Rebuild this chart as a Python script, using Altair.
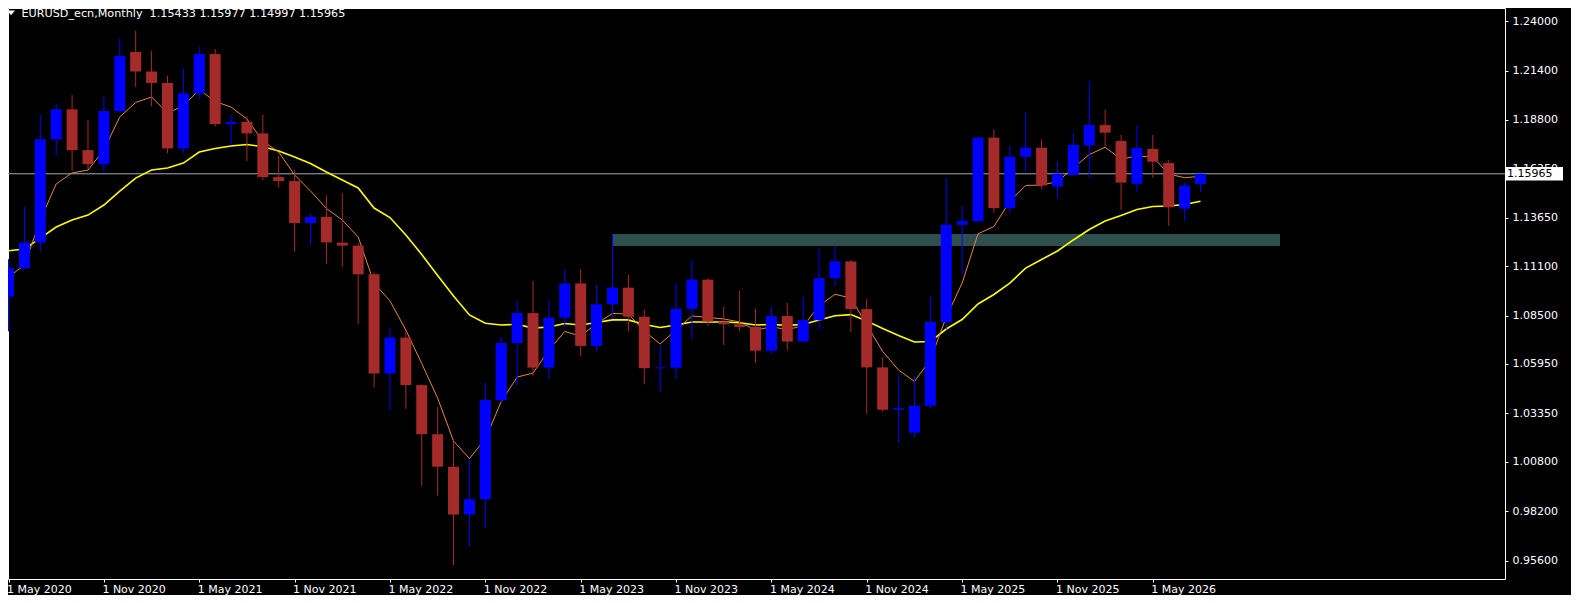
import altair as alt
import pandas as pd

# ---------------- data ----------------
opens = [1.0950, 1.1099, 1.1234, 1.1778, 1.1936, 1.1721, 1.1647, 1.1927, 1.2238, 1.2135,
         1.2075, 1.1730, 1.2020, 1.2227, 1.1858, 1.1870, 1.1809, 1.1579, 1.1558, 1.1337,
         1.1370, 1.1234, 1.1218, 1.1067, 1.0545, 1.0734, 1.0484, 1.0225, 1.0054, 0.9802,
         0.9882, 1.0405, 1.0705, 1.0863, 1.0576, 1.0839, 1.1019, 1.0690, 1.0909, 1.0997,
         1.0844, 1.0573, 1.0575, 1.0886, 1.1039, 1.0818, 1.0804, 1.0790, 1.0665, 1.0848,
         1.0713, 1.0826, 1.1047, 1.1135, 1.0884, 1.0577, 1.0354, 1.0233, 1.0375, 1.0816,
         1.1328, 1.1347, 1.1787, 1.1416, 1.1686, 1.1734, 1.1529, 1.1590, 1.1745, 1.1853,
         1.1769, 1.1544, 1.1727, 1.1653, 1.1413, 1.15433]
highs = [1.1147, 1.1422, 1.1908, 1.1966, 1.2011, 1.1881, 1.2003, 1.2310, 1.2349, 1.2243,
         1.2113, 1.2150, 1.2266, 1.2254, 1.1909, 1.1900, 1.1909, 1.1692, 1.1616, 1.1386,
         1.1483, 1.1495, 1.1233, 1.1076, 1.0787, 1.0774, 1.0488, 1.0369, 1.0198, 1.0094,
         1.0497, 1.0736, 1.0929, 1.1033, 1.0930, 1.1095, 1.1092, 1.1012, 1.1276, 1.1065,
         1.0882, 1.0695, 1.1017, 1.1139, 1.1046, 1.0897, 1.0981, 1.0885, 1.0895, 1.0916,
         1.0948, 1.1202, 1.1214, 1.1144, 1.0937, 1.0630, 1.0533, 1.0529, 1.0955, 1.1573,
         1.1425, 1.1790, 1.1830, 1.1742, 1.1918, 1.1778, 1.1659, 1.1811, 1.2085, 1.1933,
         1.1801, 1.1853, 1.1801, 1.1669, 1.1550, 1.15977]
lows = [1.0767, 1.1095, 1.1185, 1.1696, 1.1612, 1.1622, 1.1603, 1.1922, 1.2054, 1.1952,
        1.1704, 1.1704, 1.1986, 1.1845, 1.1752, 1.1664, 1.1563, 1.1524, 1.1186, 1.1221,
        1.1121, 1.1106, 1.0806, 1.0471, 1.0349, 1.0359, 0.9952, 0.9901, 0.9536, 0.9632,
        0.9730, 1.0393, 1.0483, 1.0533, 1.0516, 1.0788, 1.0635, 1.0662, 1.0834, 1.0766,
        1.0488, 1.0448, 1.0516, 1.0723, 1.0795, 1.0695, 1.0768, 1.0601, 1.0650, 1.0668,
        1.0709, 1.0778, 1.1002, 1.0761, 1.0333, 1.0343, 1.0178, 1.0210, 1.0360, 1.0778,
        1.1065, 1.1340, 1.1392, 1.1391, 1.1605, 1.1518, 1.1465, 1.1585, 1.1576, 1.1739,
        1.1407, 1.1502, 1.1576, 1.1323, 1.1349, 1.14997]
closes = [1.1099, 1.1234, 1.1778, 1.1936, 1.1721, 1.1647, 1.1927, 1.2216, 1.2135, 1.2075,
          1.1730, 1.2020, 1.2227, 1.1858, 1.1870, 1.1809, 1.1579, 1.1558, 1.1337, 1.1370,
          1.1235, 1.1218, 1.1067, 1.0545, 1.0734, 1.0484, 1.0225, 1.0054, 0.9802, 0.9882,
          1.0405, 1.0705, 1.0863, 1.0576, 1.0839, 1.1019, 1.0690, 1.0909, 1.0997, 1.0844,
          1.0573, 1.0575, 1.0886, 1.1039, 1.0818, 1.0804, 1.0790, 1.0665, 1.0848, 1.0713,
          1.0826, 1.1047, 1.1135, 1.0884, 1.0577, 1.0354, 1.0362, 1.0375, 1.0816, 1.1328,
          1.1347, 1.1787, 1.1416, 1.1686, 1.1734, 1.1535, 1.1597, 1.1748, 1.1853, 1.1813,
          1.1550, 1.1732, 1.1660, 1.1420, 1.1534, 1.15965]
ma_fast = [1.1053, 1.1116, 1.1353, 1.1543, 1.1601, 1.1616, 1.1722, 1.1896, 1.1972, 1.2001,
           1.1917, 1.1953, 1.2040, 1.1977, 1.1948, 1.1885, 1.1769, 1.1711, 1.1590, 1.1506,
           1.1414, 1.1353, 1.1264, 1.1021, 1.0927, 1.0774, 1.0597, 1.0415, 1.0189, 1.0097,
           1.0200, 1.0397, 1.0526, 1.0547, 1.0668, 1.0766, 1.0742, 1.0808, 1.0861, 1.0858,
           1.0769, 1.0700, 1.0774, 1.0848, 1.0840, 1.0832, 1.0816, 1.0774, 1.0790, 1.0777,
           1.0795, 1.0901, 1.0962, 1.0942, 1.0800, 1.0661, 1.0563, 1.0503, 1.0616, 1.0842,
           1.1021, 1.1280, 1.1319, 1.1451, 1.1535, 1.1537, 1.1555, 1.1627, 1.1698, 1.1736,
           1.1674, 1.1690, 1.1685, 1.1595, 1.1576, 1.1583]
ma_slow = [1.1191, 1.1200, 1.1258, 1.1316, 1.1353, 1.1379, 1.1432, 1.1505, 1.1574, 1.1616,
           1.1627, 1.1653, 1.1711, 1.1730, 1.1743, 1.1751, 1.1739, 1.1716, 1.1685, 1.1651,
           1.1606, 1.1564, 1.1522, 1.1416, 1.1366, 1.1274, 1.1171, 1.1061, 1.0953, 1.0853,
           1.0809, 1.0800, 1.0804, 1.0784, 1.0790, 1.0808, 1.0800, 1.0813, 1.0827, 1.0827,
           1.0803, 1.0787, 1.0800, 1.0816, 1.0816, 1.0816, 1.0812, 1.0800, 1.0803, 1.0798,
           1.0803, 1.0827, 1.0849, 1.0855, 1.0821, 1.0782, 1.0745, 1.0711, 1.0713, 1.0779,
           1.0829, 1.0911, 1.0961, 1.1021, 1.1100, 1.1145, 1.1190, 1.1248, 1.1303, 1.1348,
           1.1377, 1.1408, 1.1424, 1.1427, 1.1435, 1.1452]

x_labels = ["1 May 2020", "1 Nov 2020", "1 May 2021", "1 Nov 2021", "1 May 2022",
            "1 Nov 2022", "1 May 2023", "1 Nov 2023", "1 May 2024", "1 Nov 2024",
            "1 May 2025", "1 Nov 2025", "1 May 2026"]
price_ticks = [1.24, 1.214, 1.188, 1.1625, 1.1365, 1.111, 1.085, 1.0595,
               1.0335, 1.008, 0.982, 0.956]

zone_start = [38]
zone_end = [80]
zone_low = [1.1216]
zone_high = [1.1279]

last_price = 1.15965
symbol_title = "EURUSD_ecn,Monthly"
title_ohlc = ["1.15433", "1.15977", "1.14997", "1.15965"]

# ---------------- styling ----------------
BULL = "#0000FF"
BEAR = "#A52A2A"
FAST = "#DE8A3E"
SLOW = "#FFFF00"
ZONE = "#2F4F4F"
PRICE_LINE = "#A3A9B3"
FONT = "DejaVu Sans"

W, H = 1497, 571
Y0, Y1 = 0.946266, 1.246951
xs = alt.Scale(domain=[0.28125, 93.84375], nice=False, zero=False)
ys = alt.Scale(domain=[Y0, Y1], nice=False, zero=False)

n = len(closes)
df = pd.DataFrame({
    "i": list(range(n)), "open": opens, "high": highs, "low": lows,
    "close": closes, "fast": ma_fast, "slow": ma_slow,
})

cond = alt.condition("datum.close >= datum.open", alt.value(BULL), alt.value(BEAR))

label_expr = "[" + ",".join("'" + s + "'" for s in x_labels) + "][floor(datum.value / 6 + 0.5)]"

x_axis = alt.Axis(values=list(range(0, 6 * len(x_labels), 6)), labelExpr=label_expr,
                  labelAlign="left", labelBaseline="top", labelColor="white",
                  labelFont=FONT, labelFontSize=11, labelPadding=1, labelOffset=-2,
                  tickColor="white", tickSize=3, domain=False, grid=False,
                  labelFlush=False, labelOverlap=False, title=None)
y_axis = alt.Axis(orient="right", values=price_ticks, format=".5f",
                  labelColor="white", labelFont=FONT, labelFontSize=11,
                  labelPadding=4, tickColor="white", tickSize=3, domain=False,
                  grid=False, labelFlush=False, labelOverlap=False, title=None)


def X(field):
    return alt.X(field, type="quantitative", scale=xs, axis=x_axis)


def Y(field):
    return alt.Y(field, type="quantitative", scale=ys, axis=y_axis)


zone_df = pd.DataFrame({"s": zone_start, "e": zone_end, "lo": zone_low, "hi": zone_high})
zone = alt.Chart(zone_df).mark_rect(color=ZONE).encode(
    x=X("s"), x2="e", y=Y("lo"), y2="hi")

wicks = alt.Chart(df).mark_rule(strokeWidth=1).encode(
    x=X("i"), y=Y("low"), y2="high", color=cond)

bodies = alt.Chart(df).mark_bar(width=11).encode(
    x=X("i"), y=Y("open"), y2="close", color=cond)

dojis = alt.Chart(df).transform_filter(
    "abs(datum.close - datum.open) < 0.0006").mark_tick(
    orient="horizontal", size=11, thickness=1).encode(
    x=X("i"), y=Y("close"), color=cond)

fast_line = alt.Chart(df).mark_line(color=FAST, strokeWidth=1).encode(
    x=X("i"), y=Y("fast"))
slow_line = alt.Chart(df).mark_line(color=SLOW, strokeWidth=1.6).encode(
    x=X("i"), y=Y("slow"))

last_df = pd.DataFrame({"p": [last_price], "t": [f"{last_price:.5f}"]})
price_line = alt.Chart(last_df).mark_rule(color=PRICE_LINE, strokeWidth=1).encode(
    y=Y("p"))
half_box = 6.8 / (H / (Y1 - Y0))
box_df = pd.DataFrame({"top": [last_price + half_box], "bot": [last_price - half_box]})
price_box = alt.Chart(box_df).mark_rect(color="white").encode(
    x=alt.value(W + 1), x2=alt.value(W + 58), y=Y("top"), y2="bot")
price_text = alt.Chart(last_df).mark_text(
    align="left", baseline="middle", color="black", font=FONT, fontSize=11).encode(
    x=alt.value(W + 2), y=Y("p"), text="t:N")

head_df = pd.DataFrame({"t": [symbol_title + "\u00a0\u00a0" + " ".join(title_ohlc)]})
head_text = alt.Chart(head_df).mark_text(
    align="left", baseline="alphabetic", color="white", font=FONT, fontSize=11.2).encode(
    x=alt.value(13.5), y=alt.value(9.3), text="t:N")
head_tri = alt.Chart(head_df).mark_point(
    shape="M-1,-0.6L1,-0.6L0,0.6Z", size=64, filled=True, color="white", opacity=1).encode(
    x=alt.value(3), y=alt.value(4.8))

chart = alt.layer(
    zone, price_line, slow_line, fast_line, wicks, bodies, dojis,
    price_box, price_text, head_tri, head_text
).properties(
    width=W, height=H,
    autosize=alt.AutoSizeParams(type="none"),
    padding={"left": 0, "top": 0, "right": 66, "bottom": 16},
    background="black",
).configure(
    font=FONT,
    view=alt.ViewConfig(stroke="white", strokeWidth=1, fill="black"),
)

chart.save("out.html", embed_options={"renderer": "svg", "actions": False})
